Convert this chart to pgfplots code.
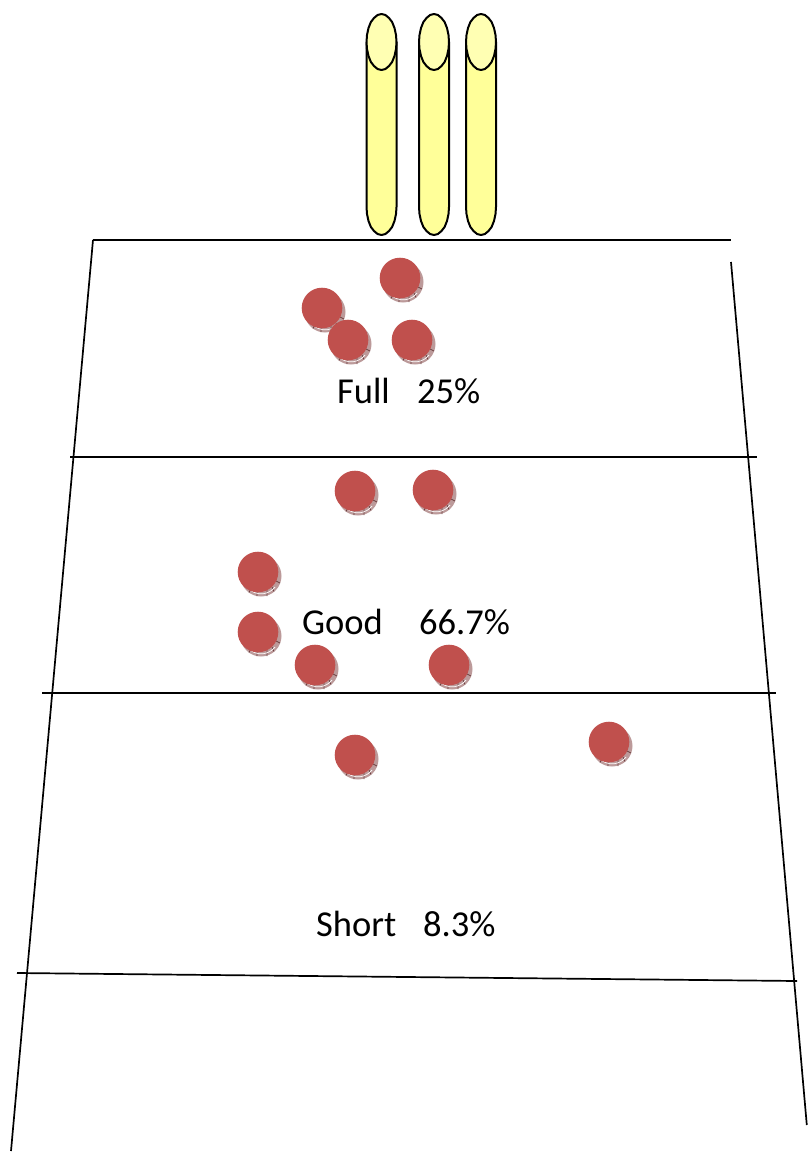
\documentclass[border=0pt]{standalone}
\usepackage{fontspec}
\setmainfont{Carlito}
\usepackage{pgfplots}
\usepackage{pgfplotstable}
\pgfplotsset{compat=1.18}
\definecolor{ballred}{HTML}{C0504D}
\definecolor{shadowred}{HTML}{BC9A9A}
\definecolor{hatchred}{HTML}{6E4040}
\definecolor{stump}{HTML}{FFFF99}
\definecolor{stumptop}{HTML}{FFFFB3}
\pgfdeclareplotmark{hatchball}{%
  \pgfsetfillcolor{shadowred}%
  \pgfpathcircle{\pgfpoint{0pt}{0pt}}{20.5pt}\pgfusepath{fill}%
  \pgfsetstrokecolor{hatchred}\pgfsetlinewidth{0.8pt}%
  \pgfpathmoveto{\pgfpoint{-12pt}{-16.5pt}}\pgfpathlineto{\pgfpoint{-10pt}{-12pt}}%
  \pgfpathmoveto{\pgfpoint{-4pt}{-20pt}}\pgfpathlineto{\pgfpoint{-4pt}{-12pt}}%
  \pgfpathmoveto{\pgfpoint{6pt}{-20pt}}\pgfpathlineto{\pgfpoint{6pt}{-12pt}}%
  \pgfpathmoveto{\pgfpoint{13pt}{-15.5pt}}\pgfpathlineto{\pgfpoint{11pt}{-11pt}}%
  \pgfpathmoveto{\pgfpoint{19pt}{-7pt}}\pgfpathlineto{\pgfpoint{15pt}{-5pt}}%
  \pgfusepath{stroke}%
  \pgfsetstrokecolor{white}\pgfsetlinewidth{0.7pt}%
  \pgfpathmoveto{\pgfpoint{-14pt}{-11pt}}\pgfpatharc{218}{322}{17.8pt}%
  \pgfusepath{stroke}%
}
\pgfdeclareplotmark{solidball}{%
  \pgfsetfillcolor{ballred}%
  \pgfpathcircle{\pgfpoint{0pt}{0pt}}{20.3pt}\pgfusepath{fill}%
}
\pgfplotstableread{
x y
-15 42
-15 207
-14.5 214
-13 221
-10.6 227
-7.5 231
-3.9 234
0 235
3.9 234
7.5 231
10.6 227
13 221
14.5 214
15 207
15 42
}\bodytable
\pgfplotstableread{
x y
0 14
3.9 15
7.5 18
10.6 22
13 28
14.5 35
15 42
14.5 49
13 56
10.6 62
7.5 66
3.9 69
0 70
-3.9 69
-7.5 66
-10.6 62
-13 56
-14.5 49
-15 42
-14.5 35
-13 28
-10.6 22
-7.5 18
-3.9 15
0 14
}\toptable
\pgfplotstableread{
x y
400 278
322 308
348 340
412 340
355 491
433 490
258 572
258 632
315 665
449 665
355 755
609 742
}\balls
\begin{document}
\begin{tikzpicture}
\begin{axis}[
  scale only axis, width=808pt, height=1167pt,
  xmin=0, xmax=808, ymin=0, ymax=1167, y dir=reverse,
  axis lines=none, clip=false, ticks=none,
]
\pgfplotsinvokeforeach{381.5,434,481}{
  \addplot[draw=black, line width=2pt, fill=stump, line join=round]
    table[x expr=\thisrow{x}+#1, y=y] {\bodytable} -- cycle;
  \addplot[draw=black, line width=2pt, fill=stumptop, line join=round]
    table[x expr=\thisrow{x}+#1, y=y] {\toptable} -- cycle;
}
\addplot[black, line width=1.7pt] coordinates {(93,240) (731,240)};
\addplot[black, line width=1.7pt] coordinates {(93,240) (11,1151)};
\addplot[black, line width=1.7pt] coordinates {(731,262) (806.8,1125)};
\addplot[black, line width=1.7pt] coordinates {(70,457) (757,457)};
\addplot[black, line width=1.7pt] coordinates {(42,693) (776,693)};
\addplot[black, line width=1.7pt] coordinates {(17,973) (797,981)};
\addplot[only marks, mark=hatchball] table[x expr=\thisrow{x}+3, y expr=\thisrow{y}+4] {\balls};
\addplot[only marks, mark=solidball] table {\balls};
\node[font=\fontsize{36.5}{40}\selectfont, inner sep=0pt, anchor=base west] at (axis cs:337,403) {Full};
\node[font=\fontsize{36.5}{40}\selectfont, inner sep=0pt, anchor=base west] at (axis cs:417,403) {25\%};
\node[font=\fontsize{36.5}{40}\selectfont, inner sep=0pt, anchor=base west] at (axis cs:302,634) {Good};
\node[font=\fontsize{36.5}{40}\selectfont, inner sep=0pt, anchor=base west] at (axis cs:419,634) {66.7\%};
\node[font=\fontsize{36.5}{40}\selectfont, inner sep=0pt, anchor=base west] at (axis cs:316,936) {Short};
\node[font=\fontsize{36.5}{40}\selectfont, inner sep=0pt, anchor=base west] at (axis cs:423,936) {8.3\%};
\end{axis}
\useasboundingbox (0,0) rectangle (808pt,1167pt);
\end{tikzpicture}
\end{document}
